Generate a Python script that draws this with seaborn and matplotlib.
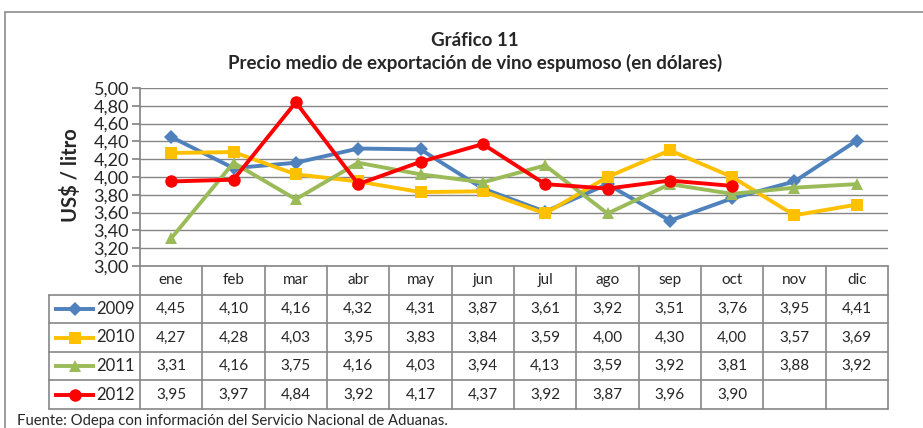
import numpy as np
import pandas as pd
import matplotlib
matplotlib.use("Agg")
import matplotlib.pyplot as plt
from matplotlib.patches import Rectangle
import seaborn as sns

# data
months = ["ene", "feb", "mar", "abr", "may", "jun", "jul", "ago", "sep", "oct", "nov", "dic"]
years = ["2009", "2010", "2011", "2012"]
p2009 = [4.45, 4.10, 4.16, 4.32, 4.31, 3.87, 3.61, 3.92, 3.51, 3.76, 3.95, 4.41]
p2010 = [4.27, 4.28, 4.03, 3.95, 3.83, 3.84, 3.59, 4.00, 4.30, 4.00, 3.57, 3.69]
p2011 = [3.31, 4.16, 3.75, 4.16, 4.03, 3.94, 4.13, 3.59, 3.92, 3.81, 3.88, 3.92]
p2012 = [3.95, 3.97, 4.84, 3.92, 4.17, 4.37, 3.92, 3.87, 3.96, 3.90, np.nan, np.nan]
yticks = [3.0, 3.2, 3.4, 3.6, 3.8, 4.0, 4.2, 4.4, 4.6, 4.8, 5.0]

series = {"2009": p2009, "2010": p2010, "2011": p2011, "2012": p2012}
pal = {"2009": "#4F81BD", "2010": "#FFC000", "2011": "#9BBB59", "2012": "#FF0000"}
mk = {"2009": "D", "2010": "s", "2011": "^", "2012": "o"}
msz = {"2009": 7, "2010": 8, "2011": 8.5, "2012": 9}

df = {"Mes": [], "Pos": [], "Precio": [], "Año": []}
for y in years:
    for i, m in enumerate(months):
        df["Mes"].append(m)
        df["Pos"].append(i)
        df["Precio"].append(series[y][i])
        df["Año"].append(y)
df = pd.DataFrame(df)

def coma(v):
    return f"{v:.2f}".replace(".", ",")

sns.set_theme(style="white")
plt.rcParams["font.family"] = ["Lato", "DejaVu Sans"]
grid_c = "#868686"

W, H = 923, 428
fig = plt.figure(figsize=(W / 100, H / 100), dpi=100)

def px(x0, y0, x1, y1):
    # pixel box -> figure fraction rect
    return [x0 / W, 1 - y1 / H, (x1 - x0) / W, (y1 - y0) / H]

# outer chart frame
fig.patches.append(Rectangle((5 / W, -0.2), 1.2, 1.2 - 12 / H, transform=fig.transFigure,
                             fill=False, edgecolor="#8c8c8c", linewidth=1.2))

ax = fig.add_axes(px(140, 88, 888, 266))
sns.lineplot(data=df, x="Pos", y="Precio", hue="Año", style="Año", markers=mk,
             dashes=False, palette=pal, linewidth=2.8, ax=ax, legend=False,
             markeredgewidth=0)
for line, y in zip(ax.get_lines(), years):
    line.set_markersize(msz[y])
ax.set_xlim(-0.5, 11.5)
ax.set_ylim(3.0, 5.0)
ax.set_yticks(yticks)
ax.set_yticklabels([coma(t) for t in yticks], fontsize=13)
ax.set_xticks([])
ax.set_xlabel("")
ax.set_ylabel("")
ax.grid(axis="y", color=grid_c, linewidth=1)
ax.set_axisbelow(True)
for s in ["top", "right", "bottom"]:
    ax.spines[s].set_visible(False)
ax.spines["left"].set_color(grid_c)
ax.tick_params(axis="y", length=6, color=grid_c, direction="out", left=True, pad=2)

# data table under the plot, sharing the month positions
tx = fig.add_axes(px(49, 266, 888, 409))
x_left = -0.5 - (140 - 49) / ((888 - 140) / 12)
tx.set_xlim(x_left, 11.5)
tx.set_ylim(5, 0)
tx.axis("off")
lk = dict(color=grid_c, linewidth=1.2, clip_on=False)
tx.plot([-0.5, 11.5], [0, 0], **lk)
for r in range(1, 6):
    tx.plot([x_left, 11.5], [r, r], **lk)
tx.plot([x_left, x_left], [1, 5], **lk)
for c in range(13):
    tx.plot([c - 0.5, c - 0.5], [0, 5], **lk)
for i, m in enumerate(months):
    tx.text(i, 0.5, m, ha="center", va="center", fontsize=11)
for r, y in enumerate(years, start=1):
    for i, v in enumerate(series[y]):
        if not np.isnan(v):
            tx.text(i, r + 0.5, coma(v), ha="center", va="center", fontsize=11)
    # legend key: line with marker in the middle
    tx.plot([x_left + 0.08, x_left + 0.74], [r + 0.5, r + 0.5], color=pal[y],
            linewidth=2.8, solid_capstyle="butt")
    tx.plot([x_left + 0.41], [r + 0.5], color=pal[y], marker=mk[y],
            markersize=msz[y], markeredgewidth=0)
    tx.text(-0.58, r + 0.5, y, ha="right", va="center", fontsize=12)

fig.text(475 / W, 1 - 40 / H, "Gráfico 11", ha="center", va="center",
         fontsize=13.5, fontweight="bold")
fig.text(475 / W, 1 - 63 / H, "Precio medio de exportación de vino espumoso (en dólares)",
         ha="center", va="center", fontsize=13.5, fontweight="bold")
fig.text(71 / W, 1 - 175 / H, "US$ / litro", ha="center", va="center",
         rotation=90, fontsize=14.5, fontweight="bold")
fig.text(17 / W, 1 - 421 / H, "Fuente: Odepa con información del Servicio Nacional de Aduanas.",
         ha="left", va="center", fontsize=10.7)

fig.savefig("out.png", dpi=100)
